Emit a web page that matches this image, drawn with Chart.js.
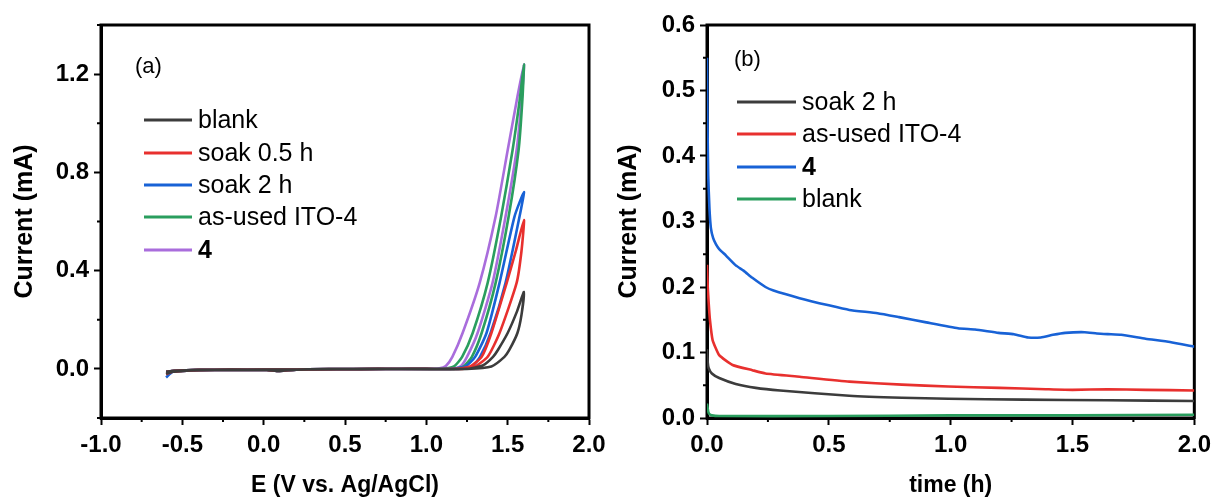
<!DOCTYPE html>
<html>
<head>
<meta charset="utf-8">
<script src="https://cdn.jsdelivr.net/npm/chart.js@4.4.1/dist/chart.umd.min.js"></script>
<style>
  html, body { margin: 0; padding: 0; background: #fff; }
  #wrap { position: relative; width: 1217px; height: 499px; overflow: hidden; }
  #cvA { position: absolute; left: 0; top: 0; }
  #cvB { position: absolute; left: 600px; top: 0; }
</style>
</head>
<body>
<div id="wrap">
  <canvas id="cvA" width="620" height="499"></canvas>
  <canvas id="cvB" width="617" height="499"></canvas>
</div>
<script>
// ---- panel (a): cyclic voltammograms, E (V) vs I (mA) ----
const cvLabels = ['blank', 'soak 0.5 h', 'soak 2 h', 'as-used ITO-4', '4'];
const cvStartI = [-0.02, -0.022, -0.035, -0.012, -0.016];

// shared flat part of each scan
const baseFwdE = [-0.56, -0.5, -0.4, -0.2, 0.0, 0.3, 0.6, 0.9, 1.0];
const baseFwdI = [-0.012, -0.008, -0.005, -0.004, -0.003, -0.002, -0.001, 0.0, 0.0];
const baseRevE = [0.7, 0.4, 0.2, 0.12, 0.08, 0.02, -0.2, -0.4, -0.55, -0.6];
const baseRevI = [0.0, -0.001, -0.003, -0.007, -0.008, -0.004, -0.003, -0.004, -0.008, -0.012];

// rising (up) and returning (down) branches
const blankUpE = [1.25, 1.40, 1.48, 1.51, 1.56, 1.585, 1.6];
const blankUpI = [0, 0.01, 0.049, 0.077, 0.146, 0.22, 0.313];
const blankDnE = [1.555, 1.50, 1.44, 1.41, 1.35, 1.25];
const blankDnI = [0.23, 0.146, 0.077, 0.049, 0.015, 0];

const soak05UpE = [1.22, 1.30, 1.377, 1.45, 1.555, 1.585, 1.6];
const soak05UpI = [0, 0.01, 0.049, 0.146, 0.35, 0.48, 0.606];
const soak05DnE = [1.55, 1.494, 1.40, 1.34, 1.27, 1.18];
const soak05DnI = [0.48, 0.35, 0.146, 0.049, 0.01, 0];

const soak2UpE = [1.2, 1.28, 1.33, 1.395, 1.487, 1.573, 1.6];
const soak2UpI = [0, 0.01, 0.049, 0.146, 0.35, 0.62, 0.72];
const soak2DnE = [1.542, 1.45, 1.37, 1.30, 1.24, 1.15];
const soak2DnI = [0.62, 0.35, 0.146, 0.049, 0.01, 0];

const usedUpE = [1.17, 1.23, 1.28, 1.34, 1.426, 1.506, 1.567, 1.59, 1.6];
const usedUpI = [0, 0.01, 0.049, 0.146, 0.35, 0.62, 0.89, 1.09, 1.24];
const usedDnE = [1.573, 1.53, 1.46, 1.377, 1.285, 1.22, 1.17, 1.1];
const usedDnI = [1.09, 0.89, 0.62, 0.35, 0.146, 0.049, 0.01, 0];

const cmpdUpE = [1.15, 1.21, 1.25, 1.315, 1.407, 1.487, 1.555, 1.585, 1.6];
const cmpdUpI = [0, 0.01, 0.049, 0.146, 0.35, 0.62, 0.89, 1.09, 1.24];
const cmpdDnE = [1.555, 1.50, 1.426, 1.328, 1.223, 1.16, 1.12, 1.08, 1.0];
const cmpdDnI = [1.09, 0.89, 0.62, 0.35, 0.146, 0.049, 0.012, 0.002, 0];

const xTicksA = [-1.0, -0.5, 0.0, 0.5, 1.0, 1.5, 2.0];
const xMinorA = [-0.75, -0.25, 0.25, 0.75, 1.25, 1.75];
const yTicksA = [0.0, 0.4, 0.8, 1.2];
const yMinorA = [-0.2, 0.2, 0.6, 1.0, 1.4];

// ---- panel (b): chronoamperometry, t (h) vs I (mA) ----
const ctLabels = ['soak 2 h', 'as-used ITO-4', '4', 'blank'];

const soak2T = [0, 0.003, 0.007, 0.02, 0.05, 0.118, 0.2, 0.3, 0.584, 0.8, 0.99, 1.3, 1.645, 2.0];
const soak2I = [0.105, 0.085, 0.076, 0.068, 0.061, 0.052, 0.046, 0.042, 0.034, 0.031, 0.0295, 0.028, 0.027, 0.026];

const usedT = [0, 0.003, 0.007, 0.012, 0.023, 0.05, 0.105, 0.186, 0.24, 0.38, 0.584, 0.8, 0.99, 1.2, 1.39, 1.5, 1.645, 1.8, 2.0];
const usedI = [0.234, 0.2, 0.175, 0.15, 0.119, 0.096, 0.081, 0.073, 0.068, 0.063, 0.0555, 0.051, 0.048, 0.046, 0.044, 0.043, 0.044, 0.043, 0.042];

const cmpdT = [0, 0.002, 0.005, 0.01, 0.016, 0.025, 0.037, 0.05, 0.078, 0.118, 0.15, 0.186, 0.24, 0.27, 0.38, 0.5, 0.584, 0.7, 0.788, 0.9, 1.03, 1.1, 1.196, 1.26, 1.318, 1.37, 1.42, 1.47, 1.55, 1.6, 1.645, 1.7, 1.8, 1.9, 2.0];
const cmpdI = [0.55, 0.45, 0.37, 0.32, 0.29, 0.275, 0.265, 0.258, 0.248, 0.233, 0.225, 0.214, 0.2, 0.195, 0.183, 0.172, 0.165, 0.16, 0.154, 0.146, 0.137, 0.135, 0.13, 0.128, 0.123, 0.123, 0.127, 0.13, 0.131, 0.129, 0.128, 0.127, 0.121, 0.116, 0.109];

const blankT = [0, 0.005, 0.01, 0.02, 0.05, 0.5, 1.0, 1.5, 2.0];
const blankI = [0.022, 0.01, 0.006, 0.004, 0.003, 0.003, 0.004, 0.004, 0.005];

const xTicksB = [0.0, 0.5, 1.0, 1.5, 2.0];
const xMinorB = [0.25, 0.75, 1.25, 1.75];
const yTicksB = [0.0, 0.1, 0.2, 0.3, 0.4, 0.5, 0.6];
const yMinorB = [0.05, 0.15, 0.25, 0.35, 0.45, 0.55];

const COLORS = {
  black: '#3c3c3c',
  red: '#e8302e',
  blue: '#1862d6',
  green: '#2a9e5e',
  purple: '#a96ddc',
};
const FONT = "'Liberation Sans', Arial, sans-serif";

function pts(xs, ys) {
  return xs.map((x, i) => ({ x, y: ys[i] }));
}

function cvLoop(i, upE, upI, dnE, dnI) {
  return [{ x: -0.6, y: cvStartI[i] }]
    .concat(pts(baseFwdE, baseFwdI), pts(upE, upI), pts(dnE, dnI), pts(baseRevE, baseRevI));
}

function line(label, data, color, tension) {
  return {
    label, data,
    borderColor: color,
    backgroundColor: color,
    borderWidth: 2.6,
    pointRadius: 0,
    showLine: true,
    tension,
    fill: false,
  };
}

// frame, minor ticks, in-plot legend and panel letter
function panelPlugin(cfg) {
  return {
    id: 'panel' + cfg.tag,
    beforeDatasetsDraw(chart) {
      const { ctx, chartArea: a } = chart;
      ctx.save();
      ctx.strokeStyle = '#000';
      ctx.lineWidth = 3;
      ctx.strokeRect(a.left, a.top, a.right - a.left, a.bottom - a.top);
      ctx.lineWidth = 2;
      ctx.beginPath();
      cfg.xMinor.forEach(v => {
        const px = chart.scales.x.getPixelForValue(v);
        ctx.moveTo(px, a.bottom);
        ctx.lineTo(px, a.bottom + 4);
      });
      cfg.yMinor.forEach(v => {
        const py = chart.scales.y.getPixelForValue(v);
        ctx.moveTo(a.left, py);
        ctx.lineTo(a.left - 4, py);
      });
      ctx.stroke();
      ctx.restore();
    },
    afterDatasetsDraw(chart) {
      const { ctx } = chart;
      ctx.save();
      ctx.textBaseline = 'middle';
      ctx.fillStyle = '#000';
      ctx.font = `22px ${FONT}`;
      ctx.fillText(cfg.letter, cfg.letterX, cfg.letterY);
      cfg.legendY.forEach((y, i) => {
        const ds = chart.data.datasets[cfg.legendOrder[i]];
        ctx.strokeStyle = ds.borderColor;
        ctx.lineWidth = 2.8;
        ctx.beginPath();
        ctx.moveTo(cfg.legendX1, y);
        ctx.lineTo(cfg.legendX2, y);
        ctx.stroke();
        ctx.fillStyle = '#000';
        ctx.font = (ds.label === '4' ? 'bold ' : '') + `25px ${FONT}`;
        ctx.fillText(ds.label, cfg.legendX2 + 6, y + 1);
      });
      ctx.restore();
    },
  };
}

function axisOpts(min, max, ticks, title, fitKey, fitVal, titleSize, titlePad, tickPad) {
  return {
    type: 'linear',
    min, max,
    afterBuildTicks: s => { s.ticks = ticks.map(v => ({ value: v })); },
    afterFit: s => { s[fitKey] = fitVal; },
    grid: {
      display: true,
      drawOnChartArea: false,
      drawTicks: true,
      tickLength: 7,
      tickWidth: 2,
      tickColor: '#000',
    },
    border: { display: true, color: '#000', width: 3 },
    ticks: {
      color: '#000',
      padding: tickPad,
      font: { family: FONT, size: 24, weight: 'bold' },
      callback: v => Number(v).toFixed(1),
      maxRotation: 0,
      autoSkip: false,
    },
    title: {
      display: true,
      text: title,
      color: '#000',
      font: { family: FONT, size: titleSize, weight: 'bold' },
      padding: titlePad,
    },
  };
}

function baseOptions(padRight, yWidth, xs, ys, xTitle, yTitle, yTitlePad) {
  return {
    responsive: false,
    animation: false,
    layout: { padding: { left: 0, right: padRight, top: 25, bottom: 0 } },
    plugins: { legend: { display: false }, tooltip: { enabled: false } },
    scales: {
      x: axisOpts(xs.min, xs.max, xs.ticks, xTitle, 'height', 81, 23, { top: 0, bottom: 0 }, 6),
      y: axisOpts(ys.min, ys.max, ys.ticks, yTitle, 'width', yWidth, 25, { top: yTitlePad, bottom: 0 }, 5),
    },
  };
}

new Chart(document.getElementById('cvA'), {
  type: 'scatter',
  data: {
    datasets: [
      line(cvLabels[0], cvLoop(0, blankUpE, blankUpI, blankDnE, blankDnI), COLORS.black, 0.2),
      line(cvLabels[1], cvLoop(1, soak05UpE, soak05UpI, soak05DnE, soak05DnI), COLORS.red, 0.2),
      line(cvLabels[2], cvLoop(2, soak2UpE, soak2UpI, soak2DnE, soak2DnI), COLORS.blue, 0.2),
      line(cvLabels[3], cvLoop(3, usedUpE, usedUpI, usedDnE, usedDnI), COLORS.green, 0.2),
      line(cvLabels[4], cvLoop(4, cmpdUpE, cmpdUpI, cmpdDnE, cmpdDnI), COLORS.purple, 0.2),
    ],
  },
  options: baseOptions(31, 101,
    { min: -1, max: 2, ticks: xTicksA },
    { min: -0.2, max: 1.4, ticks: yTicksA },
    'E (V vs. Ag/AgCl)', 'Current (mA)', 10),
  plugins: [panelPlugin({
    tag: 'A', xMinor: xMinorA, yMinor: yMinorA,
    letter: '(a)', letterX: 135, letterY: 67,
    legendX1: 144, legendX2: 192,
    legendY: [120, 153, 185, 217, 250],
    legendOrder: [0, 1, 2, 3, 4],
  })],
});

new Chart(document.getElementById('cvB'), {
  type: 'scatter',
  data: {
    datasets: [
      line(ctLabels[0], pts(soak2T, soak2I), COLORS.black, 0.15),
      line(ctLabels[1], pts(usedT, usedI), COLORS.red, 0.15),
      line(ctLabels[2], pts(cmpdT, cmpdI), COLORS.blue, 0.15),
      line(ctLabels[3], pts(blankT, blankI), COLORS.green, 0.15),
    ],
  },
  options: baseOptions(20, 107,
    { min: 0, max: 2, ticks: xTicksB },
    { min: 0, max: 0.6, ticks: yTicksB },
    'time (h)', 'Current (mA)', 14),
  plugins: [panelPlugin({
    tag: 'B', xMinor: xMinorB, yMinor: yMinorB,
    letter: '(b)', letterX: 134, letterY: 60,
    legendX1: 137, legendX2: 196,
    legendY: [102, 134, 167, 199],
    legendOrder: [0, 1, 2, 3],
  })],
});
</script>
</body>
</html>
